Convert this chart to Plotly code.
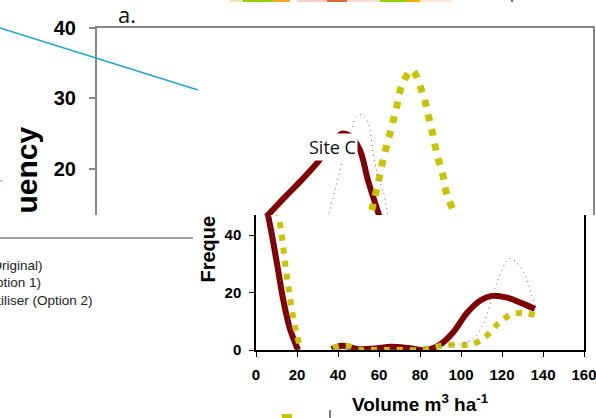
import plotly.graph_objects as go

W, H = 596, 418

# ---------------- data ----------------
# upper panel ("a.") – partially visible distribution curves
up_red_x = [54.2, 60.6, 65.5, 71.3, 75.2, 79.0, 81.6, 84.8, 87.4, 89.4, 91.3]
up_red_y = [13.0, 16.0, 18.2, 21.0, 23.3, 25.0, 24.7, 22.7, 18.4, 15.6, 13.0]

up_yel_x = [88.0, 89.0, 90.6, 91.9, 93.5, 95.2, 96.8, 98.4, 101.6, 105.2, 106.8, 108.4, 109.7, 111.6, 112.9, 115.5, 116.5]
up_yel_y = [12.0, 14.9, 17.7, 20.6, 23.4, 26.2, 29.1, 31.9, 34.0, 30.5, 27.7, 24.8, 22.0, 19.1, 16.3, 13.5, 12.0]

up_blu_x = [74.5, 76.1, 77.4, 79.0, 80.6, 82.3, 83.5, 85.2, 86.8, 88.1, 89.0, 90.6, 92.6, 93.9]
up_blu_y = [13.0, 16.0, 18.0, 21.0, 24.1, 25.8, 27.4, 27.7, 27.1, 25.5, 22.4, 19.1, 16.3, 13.0]

# lower panel (Site C) – volume (m3/ha) vs frequency
lo_red_x = [5.0, 7.6, 10.5, 13.3, 16.5, 20.5, None,
            37, 42, 50, 58, 66, 75, 83, 90, 96, 103, 110, 115, 122, 129, 136]
lo_red_y = [50, 40.7, 29, 17.4, 7.5, 0, None,
            0.3, 1.5, 0.3, 0.5, 1.1, 0.6, 0, 2, 6, 13, 17.5, 18.8, 18.3, 16.5, 14.3]

lo_yel_x = [10.3, 12.2, 14.6, 16.5, 18.6, 20.1, 21.6, None,
            37.5, 44, 50.6, 57, 63.6, 70, 79, 86, 92.4, 98.9, 105.4, 111.9, 118.3, 124.8, 131.6, 136.8]
lo_yel_y = [49, 41.7, 28, 18.5, 9.5, 4.9, 0.5, None,
            0.7, 1.5, 0, 0, 0, 0, 0, 0.8, 1.7, 1.8, 2, 4.6, 9.3, 12.4, 12.8, 11.9]

lo_blu_x = [5.3, 7.9, 10.8, 13.6, 16.8, 20.6, None,
            38, 50, 60, 70, 78, 89.5, 100.8, 106, 110.6, 113.8, 117.9, 123.6, 126.8, 131.7, 134.1, 136.8]
lo_blu_y = [50, 40.7, 29, 17.4, 7.5, 0, None,
            0.5, 0.3, 0.3, 0.3, 0.7, 1.5, 2.3, 4, 8.7, 15, 24.3, 31.9, 30.7, 25.5, 19.7, 14.5]

upper_yticks = [20, 30, 40]
lower_yticks = [0, 20, 40]
legend_labels = ["(Original)", "(Option 1)", "Fertiliser (Option 2)"]

RED = "#800000"
YEL = "#c9c400"
BLU = "#5050ee"


def px(x):
    return x / W


def py(y):
    return 1 - y / H


fig = go.Figure()

# upper traces
fig.add_trace(go.Scatter(x=up_red_x, y=up_red_y, mode="lines", xaxis="x", yaxis="y",
                         line=dict(color=RED, width=6, shape="spline", smoothing=1)))
fig.add_trace(go.Scatter(x=up_yel_x, y=up_yel_y, mode="lines", xaxis="x", yaxis="y",
                         line=dict(color=YEL, width=7, dash="7px,8px", shape="spline", smoothing=1)))
fig.add_trace(go.Scatter(x=up_blu_x, y=up_blu_y, mode="lines", xaxis="x", yaxis="y",
                         line=dict(color=BLU, width=1, dash="1px,4px", shape="spline", smoothing=1)))

# lower traces
fig.add_trace(go.Scatter(x=lo_red_x, y=lo_red_y, mode="lines", xaxis="x2", yaxis="y2", connectgaps=False,
                         line=dict(color=RED, width=6, shape="spline", smoothing=1)))
fig.add_trace(go.Scatter(x=lo_yel_x, y=lo_yel_y, mode="lines", xaxis="x2", yaxis="y2", connectgaps=False,
                         line=dict(color=YEL, width=6, dash="6px,7px", shape="spline", smoothing=1)))
fig.add_trace(go.Scatter(x=lo_blu_x, y=lo_blu_y, mode="lines", xaxis="x2", yaxis="y2", connectgaps=False,
                         line=dict(color=BLU, width=1, dash="1px,4px", shape="spline", smoothing=1)))

tickfont_up = dict(family="Liberation Sans, Arial", size=20, color="black", weight="bold")
tickfont_lo = dict(family="Liberation Sans, Arial", size=15, color="black", weight="bold")

shapes = []
# cyan line at top-left
shapes.append(dict(type="line", xref="paper", yref="paper", x0=px(0), y0=py(28), x1=px(198), y1=py(90),
                   line=dict(color="#1aa7d4", width=1.5)))
# small blue tick at far left
shapes.append(dict(type="line", xref="paper", yref="paper", x0=px(0), y0=py(181), x1=px(3), y1=py(181),
                   line=dict(color="#6fa0e0", width=1)))
# grey horizontal rule left
shapes.append(dict(type="line", xref="paper", yref="paper", x0=px(0), y0=py(238), x1=px(193), y1=py(238),
                   line=dict(color="#808080", width=1.5)))
# colourful strip fragments along the top edge
strip = [(230, 243, "#f3e0b0"), (243, 273, "#8fd400"), (273, 290, "#f5a623"), (297, 327, "#f6cfc8"),
         (327, 347, "#d86a3a"), (347, 380, "#f8e0d0"), (380, 407, "#8fd400"), (407, 420, "#f5b000"),
         (420, 453, "#fbe8d8"), (511, 513, "#3070e0")]
for a, b, c in strip:
    shapes.append(dict(type="rect", xref="paper", yref="paper", x0=px(a), x1=px(b), y0=py(2), y1=py(0),
                       line=dict(width=0), fillcolor=c))
# small fragments at bottom
shapes.append(dict(type="rect", xref="paper", yref="paper", x0=px(282), x1=px(292), y0=py(418), y1=py(414),
                   line=dict(width=0), fillcolor=YEL))
shapes.append(dict(type="line", xref="paper", yref="paper", x0=px(330), x1=px(330), y0=py(418), y1=py(410),
                   line=dict(color="black", width=1)))

annotations = []
annotations.append(dict(text="a.", xref="paper", yref="paper", x=px(127), y=py(14), showarrow=False,
                        xanchor="center", yanchor="middle",
                        font=dict(family="Open Sans", size=22, color="#111")))
annotations.append(dict(text="Site C", xref="paper", yref="paper", x=px(332), y=py(147), showarrow=False,
                        xanchor="center", yanchor="middle", bgcolor="white", borderpad=1,
                        font=dict(family="Open Sans", size=18, color="#111")))
annotations.append(dict(text="uency", xref="paper", yref="paper", x=px(26), y=py(216), showarrow=False,
                        textangle=-90, xanchor="center", yanchor="bottom",
                        font=dict(family="Liberation Sans, Arial", size=30, color="black", weight="bold")))
annotations.append(dict(text="Freque", xref="paper", yref="paper", x=px(207), y=py(285), showarrow=False,
                        textangle=-90, xanchor="center", yanchor="bottom",
                        font=dict(family="Liberation Sans, Arial", size=20, color="black", weight="bold")))
annotations.append(dict(text="Volume m<sup>3</sup> ha<sup>-1</sup>", xref="paper", yref="paper",
                        x=px(420), y=py(403), showarrow=False, xanchor="center", yanchor="middle",
                        font=dict(family="Liberation Sans, Arial", size=19, color="black", weight="bold")))
for lab, ycen, xr in zip(legend_labels, [265, 282, 300], [45, 43, 95]):
    annotations.append(dict(text=lab, xref="paper", yref="paper", x=px(xr), y=py(ycen), showarrow=False,
                            xanchor="right", yanchor="middle",
                            font=dict(family="Liberation Sans, Arial", size=13.5, color="#222")))

fig.update_layout(
    template="none",
    width=W, height=H, autosize=False,
    margin=dict(l=0, r=0, t=0, b=0, pad=0, autoexpand=False),
    paper_bgcolor="white", plot_bgcolor="rgba(0,0,0,0)",
    showlegend=False,
    xaxis=dict(domain=[px(97), px(593)], range=[0, 160], side="top", anchor="y", automargin=False,
               showline=True, linecolor="#868686", linewidth=2, showticklabels=False, ticks="",
               showgrid=False, zeroline=False),
    yaxis=dict(domain=[py(215), py(28)], range=[13.47, 40], anchor="x", automargin=False,
               showline=True, mirror=True, linecolor="#868686", linewidth=2,
               ticks="outside", ticklen=6, tickcolor="#868686", tickwidth=1.5,
               tickvals=upper_yticks, tickfont=tickfont_up, ticklabelstandoff=9,
               ticklabeloverflow="allow", showgrid=False, zeroline=False),
    xaxis2=dict(domain=[px(256), px(584)], range=[0, 160], anchor="y2", automargin=False,
                showline=True, linecolor="black", linewidth=1.5,
                ticks="outside", ticklen=5, tickcolor="black", tick0=0, dtick=20,
                tickfont=tickfont_lo, ticklabelstandoff=5, ticklabeloverflow="allow",
                showgrid=False, zeroline=False),
    yaxis2=dict(domain=[py(350), py(215)], range=[0, 47], anchor="x2", automargin=False,
                showline=True, mirror=True, linecolor="black", linewidth=1.5,
                ticks="outside", ticklen=5, tickcolor="black",
                tickvals=lower_yticks, tickfont=tickfont_lo, ticklabelstandoff=5,
                ticklabeloverflow="allow", showgrid=False, zeroline=False),
    shapes=shapes,
    annotations=annotations,
)

fig.write_html("out.html")
